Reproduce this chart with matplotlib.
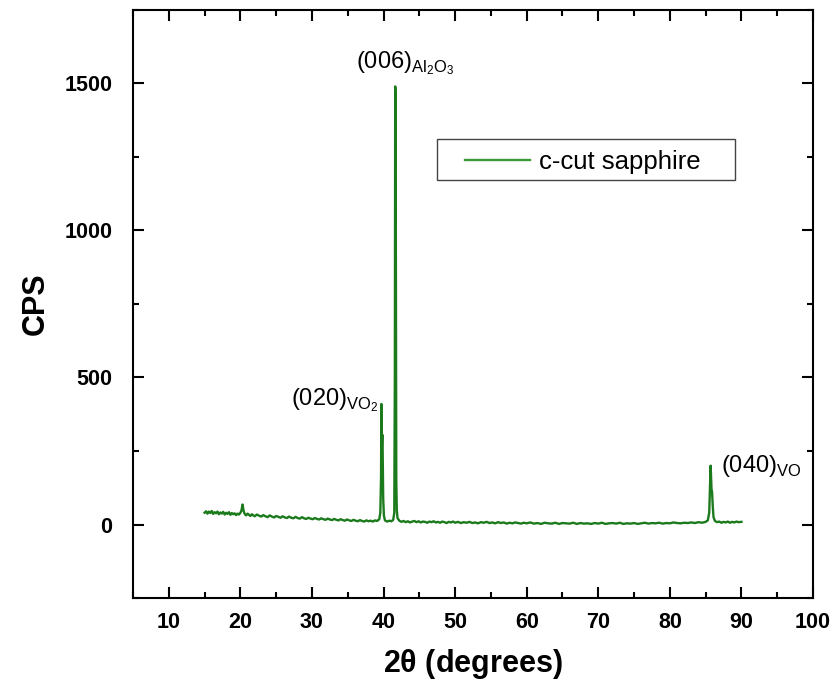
import matplotlib
matplotlib.use("Agg")
import matplotlib.pyplot as plt
from matplotlib.ticker import MultipleLocator
from matplotlib.patches import Rectangle

plt.rcParams['font.family'] = ['Liberation Sans', 'DejaVu Sans']
plt.rcParams['mathtext.fontset'] = 'custom'
plt.rcParams['mathtext.rm'] = 'Liberation Sans'

# 2theta (deg) and intensity (CPS)
two_theta = [
    15.0, 15.2, 15.4, 15.6, 15.8, 16.0, 16.2, 16.4, 16.6, 16.8, 17.0, 17.2,
    17.4, 17.6, 17.8, 18.0, 18.2, 18.4, 18.6, 18.8, 19.0, 19.2, 19.4, 19.6,
    19.8, 20.0, 20.15, 20.3, 20.45, 20.6, 20.8, 21.0, 21.2, 21.4, 21.6, 21.8,
    22.0, 22.3, 22.6, 22.9, 23.2, 23.5, 23.8, 24.1, 24.4, 24.7, 25.0, 25.3,
    25.6, 25.9, 26.2, 26.5, 26.8, 27.1, 27.4, 27.7, 28.0, 28.3, 28.6, 28.9,
    29.2, 29.5, 29.8, 30.1, 30.4, 30.7, 31.0, 31.3, 31.6, 31.9, 32.2, 32.5,
    32.8, 33.1, 33.4, 33.7, 34.0, 34.3, 34.6, 34.9, 35.2, 35.5, 35.8, 36.1,
    36.4, 36.7, 37.0, 37.3, 37.6, 37.9, 38.2, 38.5, 38.8, 39.1, 39.4, 39.55,
    39.65, 39.7, 39.75, 39.8, 39.85, 39.9, 39.95, 40.05, 40.2, 40.5, 40.8, 41.1,
    41.35, 41.5, 41.58, 41.63, 41.68, 41.73, 41.78, 41.85, 41.95, 42.2, 42.5, 42.8,
    43.1, 43.4, 43.7, 44.0, 44.3, 44.6, 44.9, 45.2, 45.5, 45.8, 46.1, 46.4,
    46.7, 47.0, 47.3, 47.6, 47.9, 48.2, 48.5, 48.8, 49.1, 49.4, 49.7, 50.0,
    50.4, 50.8, 51.2, 51.6, 52.0, 52.4, 52.8, 53.2, 53.6, 54.0, 54.4, 54.8,
    55.2, 55.6, 56.0, 56.4, 56.8, 57.2, 57.6, 58.0, 58.4, 58.8, 59.2, 59.6,
    60.0, 60.5, 61.0, 61.5, 62.0, 62.5, 63.0, 63.5, 64.0, 64.5, 65.0, 65.5,
    66.0, 66.5, 67.0, 67.5, 68.0, 68.5, 69.0, 69.5, 70.0, 70.5, 71.0, 71.5,
    72.0, 72.5, 73.0, 73.5, 74.0, 74.5, 75.0, 75.5, 76.0, 76.5, 77.0, 77.5,
    78.0, 78.5, 79.0, 79.5, 80.0, 80.5, 81.0, 81.5, 82.0, 82.5, 83.0, 83.5,
    84.0, 84.5, 85.0, 85.3, 85.5, 85.62, 85.7, 85.76, 85.82, 85.9, 86.0, 86.1,
    86.3, 86.6, 86.9, 87.2, 87.5, 87.8, 88.1, 88.4, 88.7, 89.0, 89.3, 89.6,
    90.0,
]
cps = [
    40, 45, 37, 44, 39, 46, 36, 42, 38, 44, 35, 41,
    37, 43, 34, 40, 36, 42, 33, 39, 35, 38, 32, 37,
    34, 40, 48, 68, 46, 36, 31, 37, 33, 29, 35, 31,
    28, 34, 30, 27, 32, 28, 25, 31, 27, 24, 29, 26,
    23, 28, 24, 22, 27, 23, 21, 26, 22, 20, 25, 21,
    19, 23, 20, 18, 22, 19, 17, 21, 18, 16, 20, 17,
    15, 19, 16, 14, 18, 15, 13, 17, 14, 12, 16, 13,
    11, 15, 12, 10, 14, 11, 13, 10, 14, 12, 18, 40,
    160, 410, 250, 300, 305, 200, 90, 30, 14, 10, 13, 11,
    16, 40, 500, 1490, 1470, 700, 150, 50, 22, 13, 9, 12,
    8, 11, 7, 10, 12, 8, 11, 7, 10, 9, 6, 10,
    8, 11, 7, 9, 6, 10, 8, 5, 9, 7, 10, 6,
    9, 5, 8, 6, 9, 5, 7, 4, 8, 6, 9, 5,
    7, 4, 8, 5, 7, 3, 6, 4, 7, 5, 3, 6,
    4, 7, 3, 5, 2, 6, 4, 3, 6, 2, 5, 4,
    3, 6, 2, 5, 3, 4, 2, 5, 3, 6, 2, 4,
    5, 3, 6, 2, 4, 3, 5, 2, 4, 6, 3, 5,
    4, 6, 3, 5, 4, 7, 5, 4, 6, 5, 7, 5,
    8, 6, 9, 14, 40, 130, 200, 160, 120, 110, 60, 25,
    12, 8, 10, 6, 9, 7, 10, 6, 9, 7, 10, 8,
    9,
]

x_ticks = [10, 20, 30, 40, 50, 60, 70, 80, 90, 100]
y_ticks = [0, 500, 1000, 1500]

fig = plt.figure(figsize=(8.33, 6.88), dpi=100)
ax = fig.add_axes([0.1597, 0.1308, 0.8163, 0.8547])

ax.plot(two_theta, cps, color='#1b7a1b', lw=1.7, label='c-cut sapphire')

ax.set_xlim(5, 100)
ax.set_ylim(-250, 1750)
ax.set_xticks(x_ticks)
ax.set_yticks(y_ticks)
ax.xaxis.set_minor_locator(MultipleLocator(5))
ax.yaxis.set_minor_locator(MultipleLocator(250))
ax.tick_params(which='both', direction='in', top=True, right=True, width=1.5,
               labelsize=15.5)
ax.tick_params(axis='x', which='major', pad=10)
ax.tick_params(axis='y', which='major', pad=15)
ax.tick_params(which='major', length=8)
ax.tick_params(which='minor', length=4)
for lab in ax.get_xticklabels() + ax.get_yticklabels():
    lab.set_fontweight('bold')
for s in ax.spines.values():
    s.set_linewidth(1.5)

ax.set_xlabel(r'2$\mathregular{\theta}$ (degrees)', fontsize=22, fontweight='bold', labelpad=10)
ax.set_ylabel('CPS', fontsize=22, fontweight='bold', labelpad=10)

ax.text(36.2, 1568, r'(006)$_{\mathregular{Al_2O_3}}$', fontsize=17, va='center', ha='left')
ax.text(27.1, 422, r'(020)$_{\mathregular{VO_2}}$', fontsize=17, va='center', ha='left')
ax.text(87.2, 200, r'(040)$_{\mathregular{VO}}$', fontsize=17, va='center', ha='left')

# legend box
ax.add_patch(Rectangle((0.447, 0.711), 0.438, 0.070, transform=ax.transAxes,
                       facecolor='white', edgecolor='#444444', lw=1.0, zorder=4))
leg = ax.legend(loc='center left', bbox_to_anchor=(0.488, 0.742), fontsize=18.5,
                frameon=False, handlelength=2.55, borderpad=0, handletextpad=0.32,
                borderaxespad=0)
leg.set_zorder(5)
leg.get_lines()[0].set_color('#3a9a3a')

fig.savefig('out.png', dpi=100)
